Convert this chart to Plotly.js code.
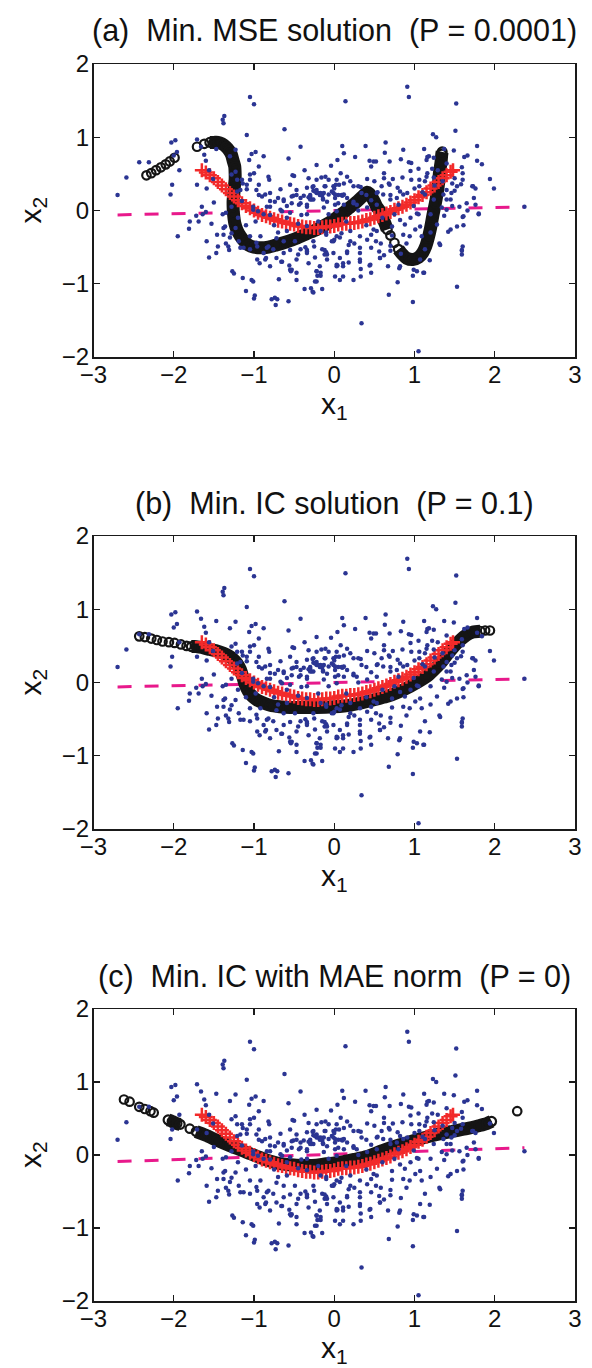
<!DOCTYPE html>
<html>
<head>
<meta charset="utf-8">
<script src="https://cdn.plot.ly/plotly-3.0.1.min.js"></script>
<style>
html,body{margin:0;padding:0;background:#fff;}
#chart{width:592px;height:1368px;}
</style>
</head>
<body>
<div id="chart"></div>
<script>
// ---------------- DATA ----------------
const panelTitles = [
  "(a)\u00a0\u00a0Min. MSE solution\u00a0\u00a0(P = 0.0001)",
  "(b)\u00a0\u00a0Min. IC solution\u00a0\u00a0(P = 0.1)",
  "(c)\u00a0\u00a0Min. IC with MAE norm\u00a0\u00a0(P = 0)"
];
const xTicks = [-3, -2, -1, 0, 1, 2, 3];
const yTicks = [-2, -1, 0, 1, 2];

// observed data points (same in every panel)
const dataPoints = [
[-2.70,0.21],[-2.59,0.45],[-2.43,0.66],[-2.31,0.66],[-2.03,0.93],[-1.98,0.96],[-2.00,0.75],[-1.96,0.80],
[-1.93,0.55],[-2.02,0.35],[-2.04,0.22],[-1.95,-0.35],[-1.80,-0.15],[-1.81,-0.25],[-1.72,-0.07],[-1.71,0.97],
[-1.66,0.87],[-1.62,0.76],[-1.71,0.35],[-1.65,0.05],[-1.64,-0.05],[-1.60,0.68],[-1.60,-0.02],[-1.59,0.30],
[-1.56,0.55],[-1.56,-0.64],[-1.53,-0.18],[-1.51,0.43],[-1.50,0.11],[-1.47,-0.58],[-1.47,0.84],[-1.45,-0.49],
[-1.39,-0.05],[-1.39,1.24],[-1.37,1.29],[-1.38,1.19],[-1.36,-0.22],[-1.35,-0.45],[-1.31,-0.54],[-1.30,0.74],
[-1.27,-0.83],[-1.25,-0.86],[-1.23,0.83],[-1.23,0.53],[-1.15,0.13],[-1.14,-0.92],[-1.10,-1.10],[-1.09,1.03],
[-1.06,0.69],[-1.05,1.55],[-1.00,1.45],[-1.00,-1.20],[-0.99,-1.16],[-1.01,-0.97],[-0.98,0.80],[-1.03,0.77],
[-1.01,0.05],[-0.94,0.60],[-0.94,0.35],[-0.94,0.21],[-0.88,0.74],[-0.85,-0.65],[-0.82,0.46],[-0.81,0.42],
[-0.78,-1.21],[-0.73,-1.29],[-0.71,-1.21],[-0.69,-0.94],[-0.67,0.29],[-0.66,-0.70],[-0.62,1.11],[-0.57,0.71],
[-0.56,-0.75],[-0.57,-1.24],[-0.55,-0.81],[-0.54,-0.83],[-0.52,0.48],[-0.50,0.47],[-0.47,-0.95],[-0.42,0.87],
[-0.37,-1.07],[-0.37,0.55],[-0.32,0.44],[-0.30,0.21],[-0.29,-1.06],[-0.27,-1.11],[-0.24,-0.64],[-0.22,0.62],
[-0.22,-0.97],[-0.21,-0.89],[-0.16,0.45],[-0.15,-1.07],[-0.11,0.46],[-0.04,0.61],[0.10,0.88],[0.14,1.49],
[-1.59,-0.42],[-1.46,-0.33],[-1.38,-0.24],[-1.30,-0.37],[-1.23,-0.24],[-1.19,-0.42],[-1.13,-0.51],[-1.05,-0.53],
[-0.96,-0.49],[-0.92,-0.35],[-0.84,-0.51],[-0.76,-0.53],[-0.72,-0.65],[-0.63,-0.42],[-0.59,-0.28],[-0.49,-0.42],
[-0.42,-0.53],[-0.34,-0.58],[-0.26,-0.42],[-0.15,-0.53],[-0.09,-0.60],[-0.01,-0.42],[0.07,-0.65],[-1.01,0.01],
[-0.88,-0.05],[-0.80,0.13],[-0.67,0.01],[-0.63,0.13],[-0.55,-0.03],[-0.51,0.20],[-0.44,0.08],[-0.38,0.20],
[-0.34,-0.05],[-0.26,0.15],[-0.22,0.24],[-0.13,0.04],[-0.07,0.22],[0.02,0.35],[0.05,0.10],[0.12,0.22],
[-1.09,0.35],[-1.15,0.42],[-1.21,0.26],[-1.05,0.49],[-0.86,0.22],[-0.80,0.05],[-1.35,-0.03],[-1.28,0.05],
[-1.20,-0.10],[-1.10,-0.20],[-0.98,-0.15],[-0.75,-0.20],[-0.70,-0.30],[-0.45,-0.18],[-0.20,-0.15],[-0.10,-0.30],
[-1.28,0.49],[-1.21,0.42],[-1.17,0.28],[-1.14,0.37],[-1.09,0.29],[-1.05,0.42],[-1.00,0.51],[-0.97,0.28],
[-0.90,0.19],[-0.80,0.24],[-0.74,0.12],[-0.63,0.15],[-0.59,0.06],[-0.53,0.19],[-0.47,0.28],[-0.42,0.10],
[-0.34,0.05],[-0.28,0.15],[-0.22,0.28],[-0.13,0.24],[-0.07,0.42],[-0.01,0.33],[0.05,0.21],[0.12,0.37],
[0.08,0.51],[0.04,0.69],[0.12,0.78],[-0.88,-0.58],[-0.80,-0.76],[-0.96,-0.67],[-0.63,-0.58],[-0.47,-0.67],
[-0.34,-0.54],[-0.18,-0.76],[-0.01,-0.58],[0.07,-0.95],[0.01,-0.90],
[0.91,1.69],[0.93,1.55],[1.52,1.46],[1.51,1.09],[1.23,1.04],[1.27,1.00],[0.39,0.88],[0.64,0.93],
[0.63,0.79],[1.12,0.84],[1.37,0.84],[1.49,0.82],[1.78,0.88],[1.66,0.75],[1.62,0.73],[1.78,0.68],
[1.84,0.63],[0.26,0.73],[0.44,0.68],[0.49,0.67],[0.52,0.67],[0.46,0.60],[0.69,0.67],[0.83,0.70],
[0.86,0.83],[0.93,0.66],[0.96,0.65],[1.05,0.57],[1.16,0.73],[1.15,0.69],[1.18,0.74],[1.24,0.72],
[1.16,0.51],[1.22,0.57],[1.40,0.64],[0.06,0.35],[0.10,0.20],[-0.27,0.32],[-0.26,0.27],[-0.15,0.20],
[-0.14,0.16],[0.00,0.30],[0.62,0.51],[0.62,0.44],[0.73,0.43],[0.79,0.31],[0.70,0.21],[0.41,0.43],
[0.33,0.32],[0.54,0.25],[0.95,0.54],[0.96,0.42],[0.91,0.24],[1.06,0.42],[1.06,0.33],[1.10,0.25],
[1.13,0.40],[1.15,0.46],[1.24,0.45],[1.25,0.34],[1.29,0.55],[1.59,0.59],[1.60,0.51],[1.60,0.42],
[1.58,0.36],[1.50,0.44],[1.50,0.27],[1.72,0.33],[1.76,0.30],[1.94,0.43],[1.99,0.30],[1.74,0.17],
[1.76,0.08],[1.66,0.00],[1.80,-0.05],[1.56,0.05],[1.60,-0.09],[1.61,-0.20],[1.45,-0.26],[1.37,-0.07],
[2.37,0.05],[1.60,-0.49],[1.59,-0.55],[1.59,-0.60],[1.53,-1.04],[1.31,-0.45],[1.19,-0.68],[1.13,-0.53],
[1.12,-0.85],[1.03,-0.83],[0.98,-0.89],[0.98,-1.25],[1.05,-1.92],[0.34,-1.54],[0.68,-1.15],[0.79,-0.98],
[0.81,-0.79],[0.83,-0.59],[0.46,-0.85],[0.44,-0.75],[0.33,-0.80],[0.33,-0.90],[0.32,-0.70],[0.32,-0.58],
[0.32,-0.51],[0.18,-0.71],[0.11,-0.76],[0.04,-0.75],[0.57,-0.65],[0.56,-0.56],[0.62,-0.61],[0.52,-0.42],
[-0.09,-0.67],[-0.10,-0.57],[-0.12,-0.54],[-0.17,-0.85],[-0.17,-0.89],[-0.22,-0.83],[-0.26,-1.12],[-0.36,-0.50],
[-0.42,0.17],[-0.32,0.18],[-0.34,0.08],[-0.24,0.26],[-0.17,0.24],[-0.09,0.12],[-0.07,-0.05],[0.01,0.22],
[0.03,-0.01],[0.12,0.08],[0.16,0.17],[0.24,0.10],[0.28,0.08],[0.34,0.24],[0.41,0.04],[0.46,0.14],
[0.53,0.08],[0.61,0.22],[0.70,0.15],[0.78,0.17],[0.80,0.08],[0.86,0.22],[0.88,-0.19],[0.99,0.06],
[1.05,-0.05],[1.13,0.22],[1.24,0.15],[1.36,0.22],[1.28,-0.19],[1.34,0.04],[1.40,0.01],[1.47,0.06],
[1.53,0.33],[0.46,-0.33],[0.53,-0.28],[0.20,-0.28],[0.07,-0.37],[-0.17,-0.28],[-0.34,-0.21],[0.00,-0.40],
[0.72,-0.34],[0.86,-0.33],[1.01,-0.26],[1.09,-0.35],[0.25,-0.45],[0.40,-0.20],[0.60,-0.10],[0.75,-0.05],
[0.95,-0.10],[1.20,-0.05],[0.15,-0.15],[0.70,-0.55],[0.90,-0.45],[1.20,-0.30],[0.30,0.00],[0.20,0.40],
[0.50,0.40],[0.85,0.45],[1.00,0.30],[1.35,0.40],[1.45,0.15],[0.03,-0.35],[0.18,-0.47],[0.41,-0.40],
[0.46,-0.51],[0.58,-0.45],[0.70,-0.48],[0.72,-0.22],[-0.25,-0.49],[0.11,-0.90],[0.24,-0.95],[-0.22,0.42],
[-0.11,0.33],[0.03,0.42],[0.16,0.46],[0.24,0.33],[0.59,0.33],[0.68,0.37],[1.40,0.28],[1.47,0.37],
[-1.69,-0.15],[-1.32,-0.49],[-1.38,-0.33],[-1.03,-0.95],[-0.97,-0.44],[-0.93,-0.72],[-0.86,-0.67],[-0.82,-0.49],
[-0.72,-0.38],[-0.65,-0.70],[-0.55,-0.54],[-0.53,-0.81],[-0.47,-0.85],[-0.45,-0.60],[-0.34,-0.56],[-0.32,-0.72],
[-0.22,-0.83],[-0.24,-0.97],[-0.12,-0.60],[0.03,-0.76],[0.11,-0.72],[0.16,-0.58],[-0.74,-1.19],[-0.55,0.35],
[-0.70,0.17],[-0.53,0.10],[-0.47,0.21],[-0.34,0.31],[-0.30,0.15],[-0.20,0.24],[-0.12,0.33],[-0.03,0.26],
[0.01,0.17],[0.09,0.21],[-0.95,-0.01],[-0.84,0.05],[-0.80,-0.06],[-0.65,-0.01],[-0.59,-0.10],[-0.41,-0.06],
[-0.10,-0.33],[-0.03,-0.42],[0.09,-0.31],[-1.28,-0.31],[-1.05,-0.35],[-1.17,-0.51],
[-0.26,0.33],[-0.30,0.19],[-0.18,0.21],[-0.14,0.15],[-0.01,0.24],[0.11,0.21],[0.01,0.08],[0.24,0.12],
[0.30,0.33],[0.40,0.21],[0.53,0.24],[0.69,0.35],[0.82,0.26],[1.03,-0.04],[1.07,-0.22],[0.94,-0.35],
[0.82,-0.13],[0.49,-0.26],[0.32,-0.35],[0.20,-0.42],[0.16,-0.56],[0.03,-0.74],[0.32,-0.67],[0.45,-0.74],
[0.57,-0.65],[0.67,-0.76],[0.82,-0.76],[0.99,-0.81],[1.11,-0.85],[1.07,-0.67],[1.32,-0.47],[1.42,-0.29],
[1.53,-0.22],[1.59,-0.54],[1.61,-0.08],[1.65,0.10],[1.73,0.33],[1.80,-0.04],[1.40,0.15],[1.46,0.24]
];

// true principal curve (red +)
const trueCurve = [
[-1.65,0.55],[-1.60,0.52],[-1.55,0.48],[-1.50,0.44],[-1.45,0.39],[-1.40,0.34],[-1.35,0.29],[-1.30,0.24],
[-1.25,0.19],[-1.20,0.14],[-1.15,0.10],[-1.10,0.06],[-1.05,0.03],[-1.00,0.00],[-0.95,-0.03],[-0.90,-0.06],
[-0.85,-0.08],[-0.80,-0.10],[-0.75,-0.12],[-0.70,-0.14],[-0.65,-0.15],[-0.60,-0.17],[-0.55,-0.18],[-0.50,-0.19],
[-0.45,-0.21],[-0.40,-0.22],[-0.35,-0.23],[-0.30,-0.23],[-0.25,-0.24],[-0.20,-0.24],[-0.15,-0.23],[-0.10,-0.22],
[-0.05,-0.22],[0.00,-0.21],[0.05,-0.19],[0.10,-0.18],[0.15,-0.18],[0.20,-0.17],[0.25,-0.17],[0.30,-0.16],
[0.35,-0.15],[0.40,-0.13],[0.45,-0.12],[0.50,-0.10],[0.55,-0.08],[0.60,-0.06],[0.65,-0.04],[0.70,-0.02],
[0.75,0.01],[0.80,0.03],[0.85,0.05],[0.90,0.08],[0.95,0.11],[1.00,0.14],[1.05,0.18],[1.10,0.21],
[1.15,0.25],[1.20,0.30],[1.25,0.34],[1.30,0.39],[1.35,0.44],[1.40,0.48],[1.45,0.53],[1.48,0.55]
];

// first principal component (magenta dashed), per panel
const pcaA = [[-2.70,-0.06],[2.37,0.05]];
const pcaB = [[-2.70,-0.06],[2.37,0.05]];
const pcaC = [[-2.70,-0.09],[2.37,0.10]];

// fitted curves (black circles): sparse = separate circles, dense = solid band
const fitA_sparse1 = [[-2.34,0.48],[-2.28,0.51],[-2.22,0.55],[-2.16,0.59],[-2.10,0.63],[-2.05,0.67],[-1.99,0.72],[-1.71,0.87],[-1.62,0.91],[0.70,-0.34],[0.75,-0.44]];
const fitA_dense1 = [[-1.55,0.93],[-1.50,0.93],[-1.45,0.93],[-1.40,0.91],[-1.35,0.87],[-1.31,0.82],[-1.28,0.76],[-1.26,0.68],
[-1.24,0.60],[-1.235,0.50],[-1.235,0.42],[-1.245,0.32],[-1.25,0.24],[-1.26,0.14],[-1.26,0.05],[-1.255,-0.05],
[-1.24,-0.17],[-1.21,-0.27],[-1.17,-0.35],[-1.12,-0.42],[-1.07,-0.47],[-1.00,-0.50],[-0.92,-0.51],[-0.82,-0.50],
[-0.72,-0.47],[-0.60,-0.43],[-0.47,-0.38],[-0.35,-0.32],[-0.22,-0.26],[-0.10,-0.19],[0.00,-0.12],[0.10,-0.04],
[0.18,0.03],[0.26,0.10],[0.33,0.17],[0.38,0.22],[0.41,0.25],[0.44,0.23],[0.47,0.18],[0.50,0.12],
[0.53,0.05],[0.57,-0.01],[0.60,-0.10],[0.63,-0.17],[0.66,-0.26]];
const fitA_dense2 = [[0.80,-0.53],[0.85,-0.60],[0.90,-0.65],[0.98,-0.67],[1.05,-0.64],[1.10,-0.58],[1.14,-0.49],[1.17,-0.38],
[1.20,-0.24],[1.23,-0.06],[1.26,0.10],[1.28,0.22],[1.30,0.37],[1.31,0.51],[1.33,0.65],[1.34,0.77],[1.345,0.80]];

const fitB_sparse1 = [[-2.43,0.63],[-2.36,0.62],[-2.28,0.60],[-2.21,0.58],[-2.14,0.56],[-2.06,0.55],[-1.99,0.54],[-1.91,0.52],[-1.84,0.50],[1.88,0.71],[1.94,0.71]];
const fitB_dense1 = [[-1.78,0.49],[-1.72,0.49],[-1.62,0.47],[-1.55,0.45],[-1.46,0.43],[-1.38,0.40],[-1.31,0.36],[-1.26,0.32],
[-1.21,0.26],[-1.17,0.18],[-1.14,0.08],[-1.11,-0.03],[-1.07,-0.12],[-1.02,-0.19],[-0.96,-0.24],[-0.88,-0.28],
[-0.80,-0.31],[-0.68,-0.33],[-0.55,-0.34],[-0.40,-0.34],[-0.22,-0.34],[0.00,-0.33],[0.20,-0.31],[0.41,-0.26],
[0.55,-0.22],[0.66,-0.19],[0.80,-0.13],[0.95,-0.05],[1.05,0.01],[1.15,0.08],[1.24,0.17],[1.32,0.26],
[1.40,0.37],[1.49,0.49],[1.57,0.58],[1.65,0.65],[1.73,0.69],[1.82,0.70]];
const fitB_dense2 = [];

const fitC_sparse1 = [[-2.62,0.76],[-2.55,0.73],[-2.43,0.66],[-2.36,0.63],[-2.29,0.60],[-2.25,0.58],[-1.80,0.36],[2.28,0.60]];
const fitC_dense1 = [[-2.07,0.48],[-2.02,0.46],[-1.96,0.43],[-1.92,0.42]];
const fitC_dense2 = [[-1.72,0.32],[-1.60,0.27],[-1.46,0.20],[-1.33,0.14],[-1.21,0.09],[-1.08,0.03],[-0.96,-0.02],[-0.84,-0.07],
[-0.71,-0.11],[-0.59,-0.13],[-0.47,-0.14],[-0.34,-0.145],[-0.22,-0.14],[-0.10,-0.12],[0.00,-0.11],[0.12,-0.09],
[0.25,-0.06],[0.41,-0.02],[0.60,0.06],[0.82,0.14],[1.03,0.21],[1.24,0.27],[1.45,0.32],[1.65,0.36],
[1.80,0.40],[1.90,0.43],[1.96,0.46]];

// ---------------- STYLE ----------------
const BLUE = '#2b3593', RED = '#f22a2a', MAGENTA = '#e8198b', BLACK = '#151515';
const FONT = '"Liberation Sans", Arial, Helvetica, sans-serif';
const X_DOMAIN = [93.5/592, 575/592];
const H = 1368;
const panelTops = [64, 536, 1009];
const panelBottoms = [357, 829, 1301];

const xs = a => a.map(p => p[0]);
const ys = a => a.map(p => p[1]);

const panels = [
  {pca: pcaA, sparse: fitA_sparse1, dense: [fitA_dense1, fitA_dense2]},
  {pca: pcaB, sparse: fitB_sparse1, dense: [fitB_dense1, fitB_dense2]},
  {pca: pcaC, sparse: fitC_sparse1, dense: [fitC_dense1, fitC_dense2]}
];

const traces = [];
const layout = {
  width: 592, height: 1368,
  margin: {l: 0, r: 0, t: 0, b: 0},
  paper_bgcolor: '#fff', plot_bgcolor: '#fff',
  showlegend: false,
  font: {family: FONT, color: '#111'},
  annotations: []
};

panels.forEach((p, i) => {
  const n = i === 0 ? '' : String(i + 1);
  const xa = 'x' + n, ya = 'y' + n;
  traces.push({type: 'scatter', mode: 'lines', x: xs(p.pca), y: ys(p.pca), xaxis: xa, yaxis: ya,
    line: {color: MAGENTA, width: 3, dash: '14px,13px'}, hoverinfo: 'skip'});
  p.dense.forEach(d => {
    if (!d.length) return;
    traces.push({type: 'scatter', mode: 'lines+markers', x: xs(d), y: ys(d), xaxis: xa, yaxis: ya,
      line: {color: BLACK, width: 13, shape: 'spline', smoothing: 0.6},
      marker: {symbol: 'circle-open', size: 9, color: BLACK, line: {width: 2.2, color: BLACK}},
      hoverinfo: 'skip'});
  });
  traces.push({type: 'scatter', mode: 'markers', x: xs(p.sparse), y: ys(p.sparse), xaxis: xa, yaxis: ya,
    marker: {symbol: 'circle-open', size: 8.5, color: BLACK, line: {width: 2.2, color: BLACK}}, hoverinfo: 'skip'});
  traces.push({type: 'scatter', mode: 'markers', x: xs(trueCurve), y: ys(trueCurve), xaxis: xa, yaxis: ya,
    marker: {symbol: 'cross-thin-open', size: 10, color: RED, line: {width: 2.5, color: RED}}, hoverinfo: 'skip'});
  traces.push({type: 'scatter', mode: 'markers', x: xs(dataPoints), y: ys(dataPoints), xaxis: xa, yaxis: ya,
    marker: {symbol: 'circle', size: 4.5, color: BLUE}, hoverinfo: 'skip'});

  const yDomain = [1 - panelBottoms[i] / H, 1 - panelTops[i] / H];
  const axisCommon = {
    showline: true, linecolor: '#1a1a1a', linewidth: 1.5, mirror: 'ticks',
    ticks: 'inside', ticklen: 6, tickwidth: 1.3, tickcolor: '#1a1a1a',
    showgrid: false, zeroline: false, fixedrange: true,
    tickfont: {family: FONT, size: 24, color: '#111'}
  };
  layout['xaxis' + n] = Object.assign({}, axisCommon, {
    domain: X_DOMAIN, anchor: ya, range: [-3, 3], tickmode: 'array', tickvals: xTicks,
    ticklabelstandoff: -4
  });
  layout['yaxis' + n] = Object.assign({}, axisCommon, {
    domain: yDomain, anchor: xa, range: [-2, 2], tickmode: 'array', tickvals: yTicks,
    ticklabelstandoff: -2
  });
  const xc = (X_DOMAIN[0] + X_DOMAIN[1]) / 2;
  layout.annotations.push({xref: 'paper', yref: 'paper', x: xc, y: 1 - (panelTops[i] - 33) / H,
    xanchor: 'center', yanchor: 'middle', showarrow: false, text: panelTitles[i],
    font: {family: FONT, size: 30.5, color: '#111'}});
  layout.annotations.push({xref: 'paper', yref: 'paper', x: xc, y: 1 - (panelBottoms[i] + 28) / H,
    xanchor: 'center', yanchor: 'top', showarrow: false, text: 'x<sub>1</sub>',
    font: {family: FONT, size: 30, color: '#111'}});
  layout.annotations.push({xref: 'paper', yref: 'paper', x: 32 / 592,
    y: 1 - (panelTops[i] + panelBottoms[i]) / 2 / H,
    xanchor: 'center', yanchor: 'middle', textangle: -90, showarrow: false, text: 'x<sub>2</sub>',
    font: {family: FONT, size: 30, color: '#111'}});
});

Plotly.newPlot('chart', traces, layout, {staticPlot: true, displayModeBar: false});
</script>
</body>
</html>
